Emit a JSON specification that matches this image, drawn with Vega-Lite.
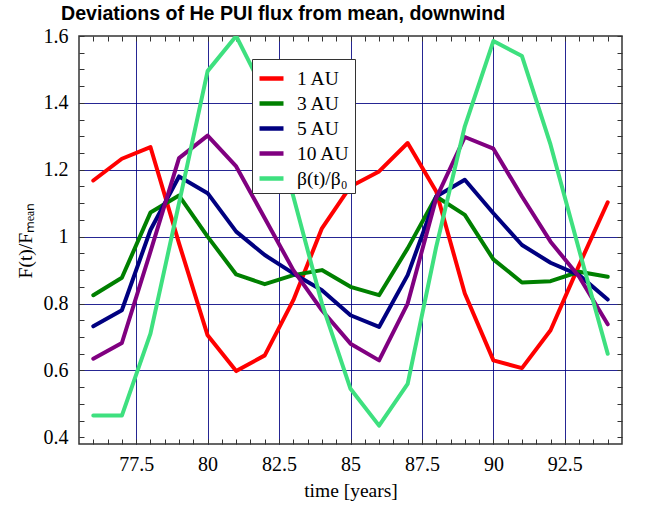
{
  "$schema": "https://vega.github.io/schema/vega-lite/v6.json",
  "width": 543,
  "height": 408,
  "autosize": "none",
  "padding": {"left": 79, "top": 36, "right": 30, "bottom": 63},
  "background": "white",
  "title": {
    "text": "Deviations of He PUI flux from mean, downwind",
    "font": "Liberation Sans",
    "fontWeight": "bold",
    "fontSize": 19.6,
    "color": "black",
    "anchor": "start",
    "frame": "group",
    "dx": -18,
    "offset": 1
  },
  "config": {
    "view": {"stroke": "#333", "strokeWidth": 1.5},
    "axis": {
      "labelFont": "Liberation Serif",
      "labelFontSize": 20,
      "labelColor": "black",
      "titleFont": "Liberation Serif",
      "titleFontSize": 19.5,
      "titleFontWeight": "normal",
      "titleColor": "black",
      "tickColor": "#333",
      "tickWidth": 1,
      "tickSize": -5,
      "domain": false,
      "labelOverlap": false,
      "labelBound": false,
      "labelFlush": false
    }
  },
  "data": {
    "values": [
      {"t": 76, "s": "1 AU", "v": 1.168}, {"t": 77, "s": "1 AU", "v": 1.233}, {"t": 78, "s": "1 AU", "v": 1.268}, {"t": 79, "s": "1 AU", "v": 0.98}, {"t": 80, "s": "1 AU", "v": 0.705}, {"t": 81, "s": "1 AU", "v": 0.598}, {"t": 82, "s": "1 AU", "v": 0.645}, {"t": 83, "s": "1 AU", "v": 0.81}, {"t": 84, "s": "1 AU", "v": 1.025}, {"t": 85, "s": "1 AU", "v": 1.15}, {"t": 86, "s": "1 AU", "v": 1.195}, {"t": 87, "s": "1 AU", "v": 1.28}, {"t": 88, "s": "1 AU", "v": 1.135}, {"t": 89, "s": "1 AU", "v": 0.83}, {"t": 90, "s": "1 AU", "v": 0.63}, {"t": 91, "s": "1 AU", "v": 0.607}, {"t": 92, "s": "1 AU", "v": 0.72}, {"t": 93, "s": "1 AU", "v": 0.915}, {"t": 94, "s": "1 AU", "v": 1.103},
      {"t": 76, "s": "3 AU", "v": 0.825}, {"t": 77, "s": "3 AU", "v": 0.877}, {"t": 78, "s": "3 AU", "v": 1.072}, {"t": 79, "s": "3 AU", "v": 1.123}, {"t": 80, "s": "3 AU", "v": 1.0}, {"t": 81, "s": "3 AU", "v": 0.887}, {"t": 82, "s": "3 AU", "v": 0.858}, {"t": 83, "s": "3 AU", "v": 0.885}, {"t": 84, "s": "3 AU", "v": 0.9}, {"t": 85, "s": "3 AU", "v": 0.85}, {"t": 86, "s": "3 AU", "v": 0.825}, {"t": 87, "s": "3 AU", "v": 0.965}, {"t": 88, "s": "3 AU", "v": 1.12}, {"t": 89, "s": "3 AU", "v": 1.065}, {"t": 90, "s": "3 AU", "v": 0.932}, {"t": 91, "s": "3 AU", "v": 0.863}, {"t": 92, "s": "3 AU", "v": 0.867}, {"t": 93, "s": "3 AU", "v": 0.895}, {"t": 94, "s": "3 AU", "v": 0.88},
      {"t": 76, "s": "5 AU", "v": 0.732}, {"t": 77, "s": "5 AU", "v": 0.78}, {"t": 78, "s": "5 AU", "v": 1.02}, {"t": 79, "s": "5 AU", "v": 1.18}, {"t": 80, "s": "5 AU", "v": 1.13}, {"t": 81, "s": "5 AU", "v": 1.015}, {"t": 82, "s": "5 AU", "v": 0.945}, {"t": 83, "s": "5 AU", "v": 0.89}, {"t": 84, "s": "5 AU", "v": 0.84}, {"t": 85, "s": "5 AU", "v": 0.765}, {"t": 86, "s": "5 AU", "v": 0.73}, {"t": 87, "s": "5 AU", "v": 0.885}, {"t": 88, "s": "5 AU", "v": 1.12}, {"t": 89, "s": "5 AU", "v": 1.17}, {"t": 90, "s": "5 AU", "v": 1.07}, {"t": 91, "s": "5 AU", "v": 0.975}, {"t": 92, "s": "5 AU", "v": 0.922}, {"t": 93, "s": "5 AU", "v": 0.885}, {"t": 94, "s": "5 AU", "v": 0.812},
      {"t": 76, "s": "10 AU", "v": 0.635}, {"t": 77, "s": "10 AU", "v": 0.682}, {"t": 78, "s": "10 AU", "v": 0.955}, {"t": 79, "s": "10 AU", "v": 1.235}, {"t": 80, "s": "10 AU", "v": 1.302}, {"t": 81, "s": "10 AU", "v": 1.21}, {"t": 82, "s": "10 AU", "v": 1.055}, {"t": 83, "s": "10 AU", "v": 0.9}, {"t": 84, "s": "10 AU", "v": 0.78}, {"t": 85, "s": "10 AU", "v": 0.68}, {"t": 86, "s": "10 AU", "v": 0.63}, {"t": 87, "s": "10 AU", "v": 0.8}, {"t": 88, "s": "10 AU", "v": 1.115}, {"t": 89, "s": "10 AU", "v": 1.298}, {"t": 90, "s": "10 AU", "v": 1.263}, {"t": 91, "s": "10 AU", "v": 1.12}, {"t": 92, "s": "10 AU", "v": 0.985}, {"t": 93, "s": "10 AU", "v": 0.88}, {"t": 94, "s": "10 AU", "v": 0.738},
      {"t": 76, "s": "β(t)/β₀", "v": 0.465}, {"t": 77, "s": "β(t)/β₀", "v": 0.465}, {"t": 78, "s": "β(t)/β₀", "v": 0.71}, {"t": 79, "s": "β(t)/β₀", "v": 1.1}, {"t": 80, "s": "β(t)/β₀", "v": 1.495}, {"t": 81, "s": "β(t)/β₀", "v": 1.6}, {"t": 82, "s": "β(t)/β₀", "v": 1.43}, {"t": 83, "s": "β(t)/β₀", "v": 1.12}, {"t": 84, "s": "β(t)/β₀", "v": 0.8}, {"t": 85, "s": "β(t)/β₀", "v": 0.545}, {"t": 86, "s": "β(t)/β₀", "v": 0.435}, {"t": 87, "s": "β(t)/β₀", "v": 0.56}, {"t": 88, "s": "β(t)/β₀", "v": 0.97}, {"t": 89, "s": "β(t)/β₀", "v": 1.33}, {"t": 90, "s": "β(t)/β₀", "v": 1.585}, {"t": 91, "s": "β(t)/β₀", "v": 1.54}, {"t": 92, "s": "β(t)/β₀", "v": 1.275}, {"t": 93, "s": "β(t)/β₀", "v": 0.96}, {"t": 94, "s": "β(t)/β₀", "v": 0.65}
    ]
  },
  "resolve": {"axis": {"x": "independent", "y": "independent"}},
  "layer": [
    {
      "mark": {"type": "line", "strokeWidth": 4, "strokeJoin": "round", "strokeCap": "round", "clip": true},
      "encoding": {
        "x": {
          "field": "t", "type": "quantitative",
          "scale": {"domain": [75.5, 94.5], "nice": false, "zero": false},
          "axis": {
            "orient": "bottom",
            "values": [76, 76.5, 77, 77.5, 78, 78.5, 79, 79.5, 80, 80.5, 81, 81.5, 82, 82.5, 83, 83.5, 84, 84.5, 85, 85.5, 86, 86.5, 87, 87.5, 88, 88.5, 89, 89.5, 90, 90.5, 91, 91.5, 92, 92.5, 93, 93.5, 94],
            "labelExpr": "abs(datum.value/2.5 - round(datum.value/2.5)) < 1e-6 ? toString(datum.value) : ''",
            "labelFont": "Liberation Serif",
            "labelBaseline": "alphabetic",
            "labelPadding": 31,
            "grid": true,
            "gridColor": "#000080",
            "gridWidth": 1,
            "gridOpacity": {"condition": {"test": "abs(datum.value/2.5 - round(datum.value/2.5)) < 1e-6", "value": 0.85}, "value": 0},
            "title": "time [years]",
            "titleFont": "Liberation Serif",
            "titleFontWeight": "normal",
            "titleBaseline": "alphabetic",
            "titleY": 52
          }
        },
        "y": {
          "field": "v", "type": "quantitative",
          "scale": {"domain": [0.38, 1.6], "nice": false, "zero": false},
          "axis": {
            "orient": "left",
            "values": [0.4, 0.45, 0.5, 0.55, 0.6, 0.65, 0.7, 0.75, 0.8, 0.85, 0.9, 0.95, 1, 1.05, 1.1, 1.15, 1.2, 1.25, 1.3, 1.35, 1.4, 1.45, 1.5, 1.55, 1.6],
            "labelExpr": "abs(datum.value*5 - round(datum.value*5)) < 1e-6 ? toString(round(datum.value*10)/10) : ''",
            "labelFont": "Liberation Serif",
            "labelPadding": 16,
            "grid": true,
            "gridColor": "#000080",
            "gridWidth": 1,
            "gridOpacity": {"condition": {"test": "abs(datum.value*5 - round(datum.value*5)) < 1e-6 && datum.value > 0.5 && datum.value < 1.55", "value": 0.85}, "value": 0},
            "title": "F(t)/Fₘₑₐₙ",
            "titleFont": "Liberation Serif",
            "titleFontWeight": "normal",
            "titleX": -54,
            "titleY": 204,
            "titleBaseline": "middle"
          }
        },
        "color": {
          "field": "s", "type": "nominal",
          "scale": {
            "domain": ["1 AU", "3 AU", "5 AU", "10 AU", "β(t)/β₀"],
            "range": ["#ff0000", "#008000", "#000080", "#800080", "#3ee07f"]
          },
          "legend": {
            "title": null,
            "orient": "none",
            "legendX": 173,
            "legendY": 23,
            "symbolType": "stroke",
            "symbolSize": 576,
            "symbolStrokeWidth": 4.5,
            "labelFont": "Liberation Serif",
            "labelFontSize": 19.5,
            "labelColor": "black",
            "labelOffset": 11,
            "rowPadding": 1,
            "padding": 5,
            "fillColor": "white",
            "strokeColor": "#333",
            "cornerRadius": 0
          }
        }
      }
    },
    {
      "mark": {"type": "point", "opacity": 0},
      "encoding": {
        "x": {
          "field": "t", "type": "quantitative",
          "axis": {
            "orient": "top",
            "values": [76, 76.5, 77, 77.5, 78, 78.5, 79, 79.5, 80, 80.5, 81, 81.5, 82, 82.5, 83, 83.5, 84, 84.5, 85, 85.5, 86, 86.5, 87, 87.5, 88, 88.5, 89, 89.5, 90, 90.5, 91, 91.5, 92, 92.5, 93, 93.5, 94],
            "labels": false,
            "grid": false,
            "title": null
          }
        },
        "y": {
          "field": "v", "type": "quantitative",
          "axis": {
            "orient": "right",
            "values": [0.4, 0.45, 0.5, 0.55, 0.6, 0.65, 0.7, 0.75, 0.8, 0.85, 0.9, 0.95, 1, 1.05, 1.1, 1.15, 1.2, 1.25, 1.3, 1.35, 1.4, 1.45, 1.5, 1.55, 1.6],
            "labels": false,
            "grid": false,
            "title": null
          }
        }
      }
    }
  ]
}
